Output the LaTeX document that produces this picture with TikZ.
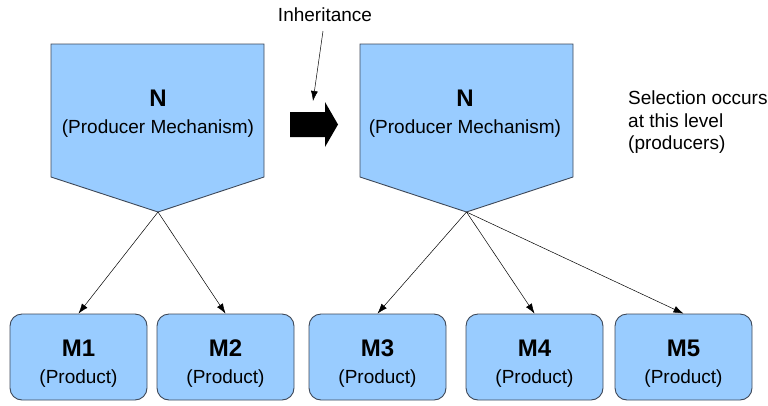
\documentclass[tikz,border=0pt]{standalone}
\usepackage{fontspec}
\setmainfont{Liberation Sans}
\usetikzlibrary{arrows.meta}
\definecolor{boxfill}{RGB}{153,204,255}
\definecolor{boxline}{RGB}{62,72,88}
\newcommand{\headline}[1]{{\fontsize{24}{27}\selectfont\bfseries #1}}
\begin{document}
\begin{tikzpicture}[x=1pt,y=-1pt,
  shapeline/.style={draw=boxline,line width=0.9pt,fill=boxfill},
  caption/.style={align=center,inner sep=0pt,font=\fontsize{19}{27}\selectfont},
  product/.style={shapeline,rounded corners=12pt,minimum width=137pt,minimum height=86pt,inner sep=0pt},
  conn/.style={-{Latex[length=10pt,width=7pt]},line width=0.5pt}]
\useasboundingbox (0,0) rectangle (768,405);

% producer mechanisms (pentagons pointing down)
\draw[shapeline] (51,44) -- (264,44) -- (264,177) -- (158,212) -- (51,177) -- cycle;
\coordinate (ltip) at (158,212);
\node[caption] (nl) at (158,114) {\headline{N}\\(Producer Mechanism)};

\draw[shapeline] (360,44) -- (573,44) -- (573,177) -- (466.5,212) -- (360,177) -- cycle;
\coordinate (rtip) at (466.5,212);
\node[caption] (nr) at (465,114) {\headline{N}\\(Producer Mechanism)};

% products
\node[product] (m1) at (78.5,357) {};
\node[product] (m2) at (225.5,357) {};
\node[product] (m3) at (377.5,357) {};
\node[product] (m4) at (534.5,357) {};
\node[product] (m5) at (683.5,357) {};
\foreach \m/\t in {m1/M1,m2/M2,m3/M3,m4/M4,m5/M5}
  \node[caption] (\m text) at ([yshift=-7pt]\m.center) {\headline{\t}\\(Product)};

\draw[conn] (ltip) -- (m1.north);
\draw[conn] (ltip) -- (m2.north);
\draw[conn] (rtip) -- (m3.north);
\draw[conn] (rtip) -- (m4.north);
\draw[conn] (rtip) -- (m5.north);

% inheritance arrow
\fill[black] (290,112) -- (325,112) -- (325,102) -- (338,124.5) -- (325,147) -- (325,137) -- (290,137) -- cycle;
\node[caption] (inh) at (325,15) {Inheritance};
\coordinate (inhstart) at (323,31);
\coordinate (inhend) at (313,101);
\draw[conn] (inhstart) -- (inhend);

% note
\node[anchor=north west,align=left,inner sep=0pt,font=\fontsize{19}{22.5}\selectfont] (note) at (628,91)
  {Selection occurs\\at this level\\(producers)};
\end{tikzpicture}
\end{document}
